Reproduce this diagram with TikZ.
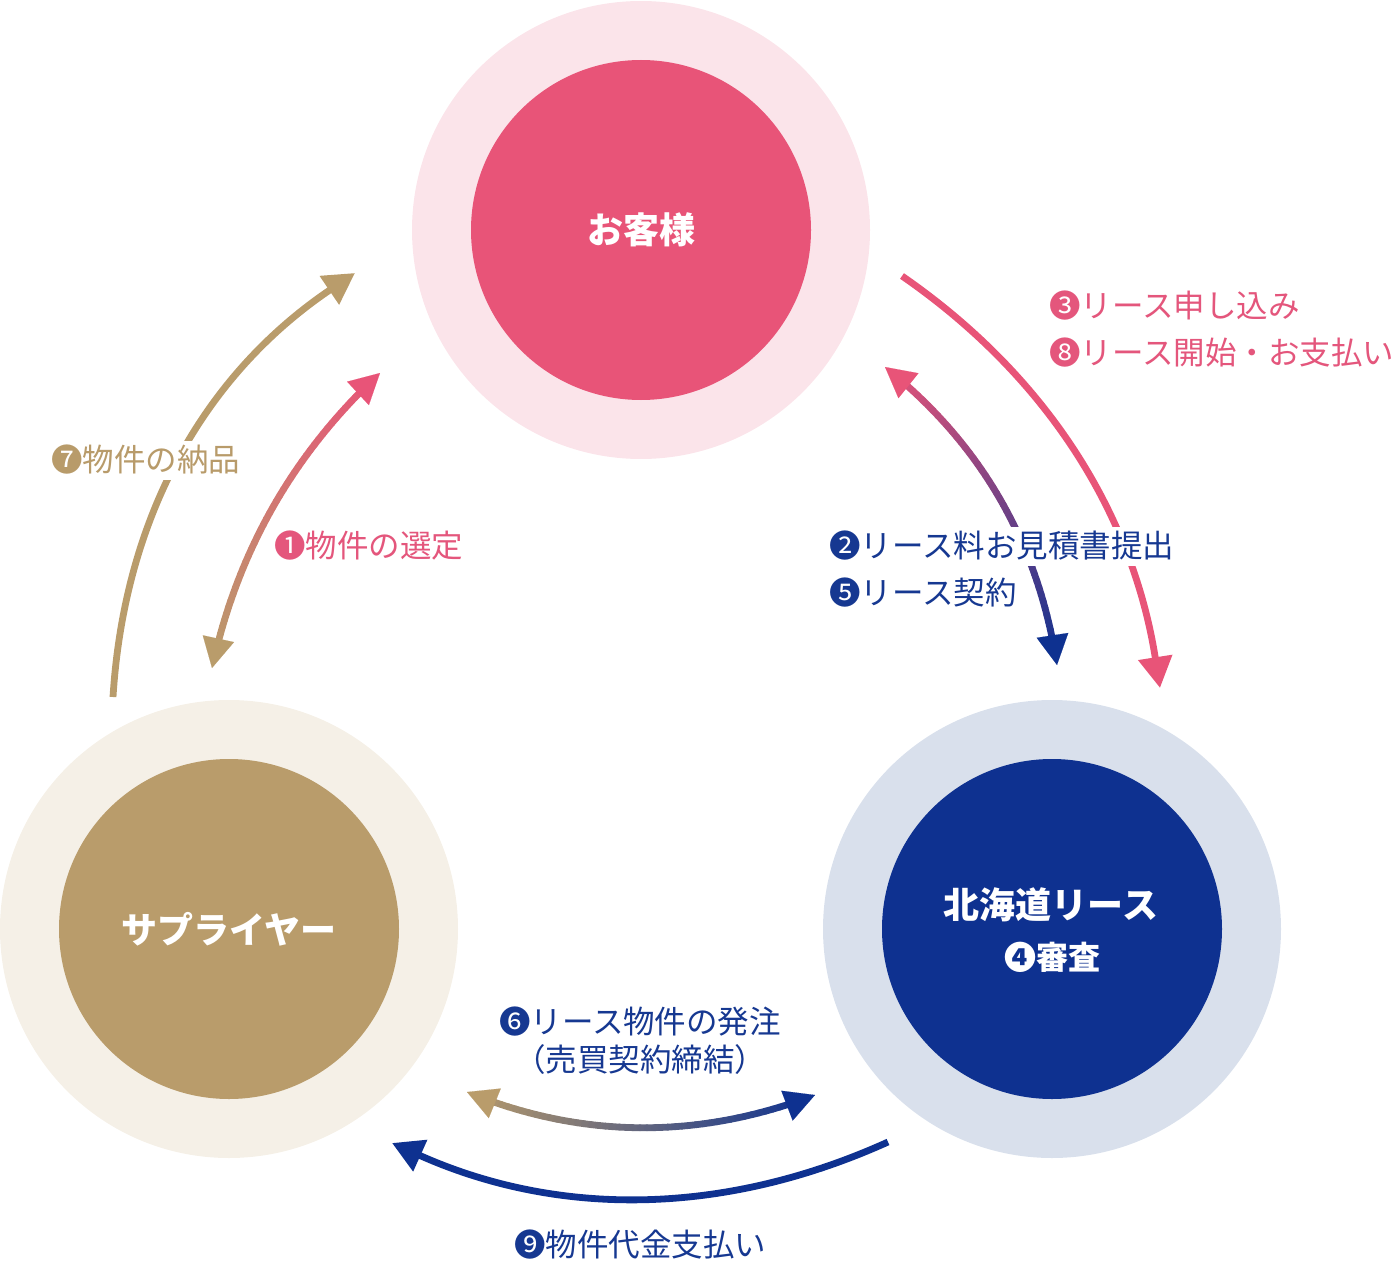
\documentclass[tikz,border=0pt]{standalone}
\usepackage{fontspec}
\setmainfont{Noto Sans CJK JP}
\usetikzlibrary{arrows.meta,calc}
\definecolor{pinkmain}{HTML}{E85478}
\definecolor{pinklight}{HTML}{FBE4EA}
\definecolor{goldmain}{HTML}{B99C6B}
\definecolor{goldlight}{HTML}{F5F0E7}
\definecolor{navymain}{HTML}{0E3190}
\definecolor{navylight}{HTML}{D9E0EC}
\definecolor{pinktext}{HTML}{E4567C}
\definecolor{goldtext}{HTML}{B89B6A}
\definecolor{navytext}{HTML}{163891}
\newcommand\lblfont{\fontsize{31.5pt}{38pt}\selectfont}
\newcommand\bigfont{\fontsize{36pt}{42pt}\selectfont\bfseries}
\newcommand\midfont{\fontsize{32pt}{38pt}\selectfont\bfseries}
\tikzset{
  outerdisc/.style={circle, minimum size=458pt, inner sep=0pt},
  innerdisc/.style={circle, minimum size=340pt, inner sep=0pt, text=white},
  flowarrow/.style={line width=6.8pt, -{Triangle[length=31pt,width=33pt]}},
  tiponly/.style={line width=0.1pt, -{Triangle[length=30pt,width=32pt]}},
  lbl/.style={anchor=west, fill=white, inner sep=4pt, text height=27pt, text depth=4pt, font=\lblfont},
  clbl/.style={anchor=center, fill=white, inner sep=3pt, text height=27pt, text depth=4pt, font=\lblfont},
}
% gradient quadratic curve: #1 start, #2 control, #3 end, #4 colour at start, #5 colour at end
\newcommand\gradcurve[5]{%
  \foreach \k in {3,...,46}{%
    \pgfmathsetmacro\ta{\k/50}%
    \pgfmathsetmacro\tb{(\k+1)/50}%
    \pgfmathtruncatemacro\pc{100-100*(\k+0.5)/50}%
    \coordinate (qa1) at ($(#1)!\ta!(#2)$);
    \coordinate (qa2) at ($(#2)!\ta!(#3)$);
    \coordinate (ga) at ($(qa1)!\ta!(qa2)$);
    \coordinate (qb1) at ($(#1)!\tb!(#2)$);
    \coordinate (qb2) at ($(#2)!\tb!(#3)$);
    \coordinate (gb) at ($(qb1)!\tb!(qb2)$);
    \draw[line width=6.8pt, line cap=round, draw=#4!\pc!#5] (ga) -- (gb);
  }
  \draw[tiponly, draw=#4] ($(#1)!0.1!(#2)$) -- (#1);
  \draw[tiponly, draw=#5] ($(#3)!0.1!(#2)$) -- (#3);
}
\begin{document}
\begin{tikzpicture}[x=1pt,y=-1pt]
\useasboundingbox (0,0) rectangle (1400,1276);

% circles
\node[outerdisc, fill=pinklight] (custout) at (641,230) {};
\node[innerdisc, fill=pinkmain, font=\bigfont] (cust) at (641,230) {お客様};
\node[outerdisc, fill=goldlight] (supout) at (229,929) {};
\node[innerdisc, fill=goldmain, font=\bigfont] (sup) at (229,929) {サプライヤー};
\node[outerdisc, fill=navylight] (leaseout) at (1052,929) {};
\node[innerdisc, fill=navymain] (lease) at (1052,929) {};
\node[text=white, font=\bigfont] (leasename) at (1051,905) {北海道リース};
\node[text=white, font=\midfont] (leasecheck) at (1052,957) {❹審査};

% arrow end points and controls
\coordinate (g7a) at (113,697);  \coordinate (g7c) at (130,425);  \coordinate (g7b) at (355,273);
\coordinate (p1a) at (380,373);  \coordinate (p1c) at (250,493.5);\coordinate (p1b) at (212,668);
\coordinate (p3a) at (902,276);  \coordinate (p3c) at (1119,426); \coordinate (p3b) at (1160,688);
\coordinate (p2a) at (885,367);  \coordinate (p2c) at (1029,482); \coordinate (p2b) at (1057,665);
\coordinate (p6a) at (467,1092); \coordinate (p6c) at (639,1162); \coordinate (p6b) at (815,1095);
\coordinate (p9a) at (888,1142); \coordinate (p9c) at (640,1254); \coordinate (p9b) at (392,1143);

% single colour arrows
\draw[flowarrow, draw=goldmain] (g7a) .. controls ($(g7a)!2/3!(g7c)$) and ($(g7b)!2/3!(g7c)$) .. (g7b);
\draw[flowarrow, draw=pinkmain] (p3a) .. controls ($(p3a)!2/3!(p3c)$) and ($(p3b)!2/3!(p3c)$) .. (p3b);
\draw[flowarrow, draw=navymain] (p9a) .. controls ($(p9a)!2/3!(p9c)$) and ($(p9b)!2/3!(p9c)$) .. (p9b);

% gradient arrows
\gradcurve{p1a}{p1c}{p1b}{pinkmain}{goldmain}
\gradcurve{p2a}{p2c}{p2b}{pinkmain}{navymain}
\gradcurve{p6a}{p6c}{p6b}{goldmain}{navymain}

% labels
\node[lbl, text=goldtext] (l7) at (47,460) {❼物件の納品};
\node[lbl, text=pinktext] (l1) at (270,546) {❶物件の選定};
\node[lbl, text=pinktext] (l3) at (1045,306) {❸リース申し込み};
\node[lbl, text=pinktext] (l8) at (1045,353) {❽リース開始・お支払い};
\node[lbl, text=navytext] (l2) at (825,546) {❷リース料お見積書提出};
\node[lbl, text=navytext] (l5) at (825,593) {❺リース契約};
\node[clbl, text=navytext] (l6) at (640,1022) {❻リース物件の発注};
\node[clbl, text=navytext] (l6b) at (640,1060) {（売買契約締結）};
\node[clbl, text=navytext] (l9) at (640,1245) {❾物件代金支払い};
\end{tikzpicture}
\end{document}
